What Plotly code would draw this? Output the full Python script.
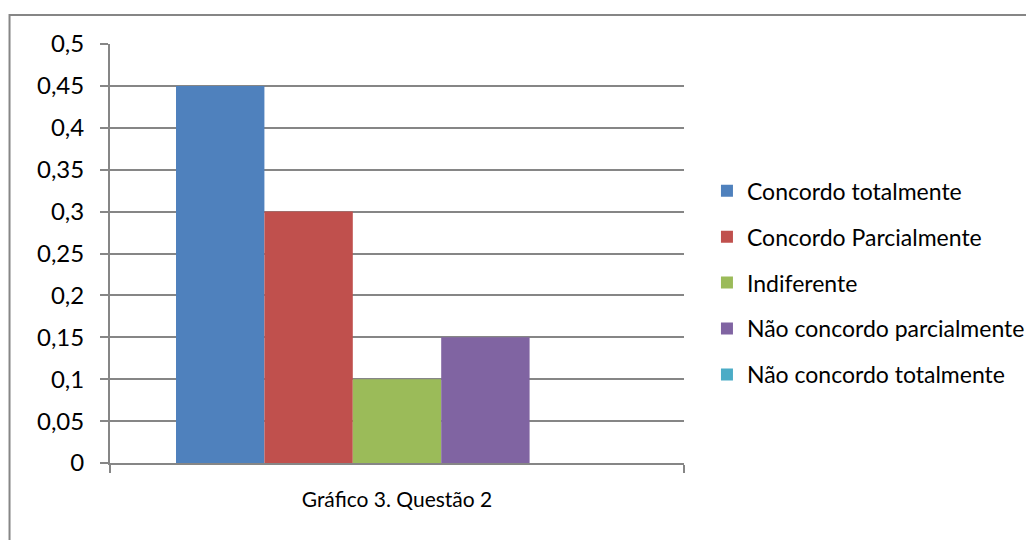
import plotly.graph_objects as go

category = ["Gráfico 3. Questão 2"]
series_names = ["Concordo totalmente", "Concordo Parcialmente", "Indiferente",
                "Não concordo parcialmente", "Não concordo totalmente"]
series_values = [0.45, 0.3, 0.1, 0.15, 0.0]
series_colors = ["#4F81BD", "#C0504D", "#9BBB59", "#8064A2", "#4BACC6"]
y_tickvals = [0, 0.05, 0.1, 0.15, 0.2, 0.25, 0.3, 0.35, 0.4, 0.45, 0.5]
y_ticktext = ["0", "0,05", "0,1", "0,15", "0,2", "0,25", "0,3", "0,35", "0,4", "0,45", "0,5"]

FONT = "Lato"
GRAY = "#868686"

fig = go.Figure()
for i, (name, val, col) in enumerate(zip(series_names, series_values, series_colors)):
    fig.add_trace(go.Bar(x=category, y=[val], name=name, marker=dict(color=col, line=dict(width=0)),
                         legendgroup=f"g{i}"))

fig.update_layout(
    width=1034, height=540,
    margin=dict(l=102, r=355, t=36, b=85),
    paper_bgcolor="white", plot_bgcolor="white",
    barmode="group", bargap=0.23, bargroupgap=0,
    font=dict(family=FONT, size=22, color="#000000"),
    showlegend=True,
    legend=dict(x=1.04, xref="paper", xanchor="left", y=0.43, yanchor="middle",
                traceorder="grouped", tracegroupgap=13,
                font=dict(family=FONT, size=23, color="#000000"),
                bgcolor="rgba(0,0,0,0)", itemwidth=30),
    xaxis=dict(type="category", showgrid=False, showline=True, linecolor=GRAY, linewidth=2,
               ticks="outside", tickson="boundaries", ticklen=8, tickcolor=GRAY, tickwidth=2,
               tickfont=dict(family=FONT, size=21), ticklabelstandoff=17),
    yaxis=dict(range=[0, 0.5], tickvals=y_tickvals, ticktext=y_ticktext,
               showgrid=True, gridcolor=GRAY, gridwidth=2,
               showline=True, linecolor=GRAY, linewidth=2,
               ticks="outside", ticklen=8, tickcolor=GRAY, tickwidth=2,
               tickfont=dict(family=FONT, size=24), zeroline=False, ticklabelstandoff=11),
    shapes=[dict(type="rect", xref="paper", yref="paper",
                 x0=(1 - 102) / 577, x1=2.0, y0=-1.0, y1=(455 - 7) / 419,
                 line=dict(color=GRAY, width=2), fillcolor="rgba(0,0,0,0)", layer="below")],
)

fig.write_html("out.html")
